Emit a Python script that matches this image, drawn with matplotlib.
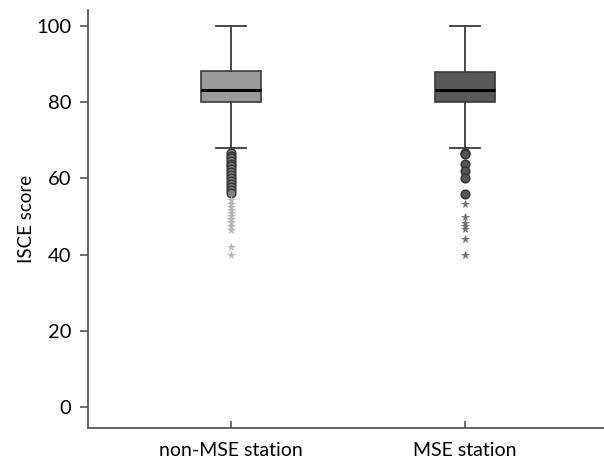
import matplotlib
matplotlib.use("Agg")
import matplotlib.pyplot as plt

plt.rcParams['font.family'] = ['Lato', 'DejaVu Sans']

groups = ["non-MSE station", "MSE station"]
positions = [1, 2]
# box statistics
q1 = [80.1, 80.1]
median = [83.2, 83.2]
q3 = [88.3, 87.8]
whislo = [68.1, 68.1]
whishi = [100, 100]
box_colors = ["#9a9a9a", "#595959"]
star_colors = ["#b5b5b5", "#6e6e6e"]

# outliers (circles) and extremes (stars)
circles_nonmse = [66.7, 66.0, 65.3, 64.6, 63.9, 63.2, 62.4, 61.7, 61.0, 60.2, 59.4, 58.6, 57.8, 57.0, 56.2]
stars_nonmse = [54.3, 53.4, 52.5, 51.8, 51.0, 50.2, 49.4, 48.5, 47.6, 46.5, 42.1, 39.9]
circles_mse = [66.8, 66.3, 63.9, 62.0, 60.0, 55.9]
stars_mse = [53.3, 49.9, 48.3, 47.6, 46.6, 44.0, 39.9]

fig = plt.figure(figsize=(6.04, 4.68), dpi=100)
ax = fig.add_axes([88/604, 40/468, 516/604, 418/468])

stats = []
for i in range(2):
    stats.append(dict(med=median[i], q1=q1[i], q3=q3[i],
                      whislo=whislo[i], whishi=whishi[i], fliers=[]))

bp = ax.bxp(stats, positions=positions, widths=0.256, patch_artist=True,
            showfliers=False,
            medianprops=dict(color="black", linewidth=2.2),
            whiskerprops=dict(color="#3a3a3a", linewidth=1.3),
            capprops=dict(color="#3a3a3a", linewidth=1.3),
            capwidths=0.128)
for patch, c in zip(bp["boxes"], box_colors):
    patch.set_facecolor(c)
    patch.set_edgecolor("#3a3a3a")
    patch.set_linewidth(1.2)

circles = [circles_nonmse, circles_mse]
stars = [stars_nonmse, stars_mse]
circle_fill = ["#808080", "#555555"]
for i in range(2):
    ax.plot([positions[i]] * len(circles[i]), circles[i], "o", ms=6.3,
            mfc=circle_fill[i], mec="#333333", mew=1.0, zorder=3)
    ax.plot([positions[i]] * len(stars[i]), stars[i], "*", ms=5.5,
            mfc=star_colors[i], mec=star_colors[i], mew=0.5, zorder=3)

ax.set_xlim(0.389, 2.594)
ax.set_ylim(-5.5, 104.2)
ax.set_yticks([0, 20, 40, 60, 80, 100])
ax.set_xticks(positions)
ax.set_xticklabels(groups, fontsize=14)
ax.tick_params(axis="y", labelsize=14.5, length=6, color="#555555", width=1.2, pad=6)
ax.tick_params(axis="x", length=5, color="#555555", width=1.2, pad=10, direction="in")
ax.set_ylabel("ISCE score", fontsize=13.5, labelpad=1)

for s in ["top", "right"]:
    ax.spines[s].set_visible(False)
for s in ["left", "bottom"]:
    ax.spines[s].set_color("#555555")
    ax.spines[s].set_linewidth(1.3)

plt.savefig("out.png", dpi=100)
